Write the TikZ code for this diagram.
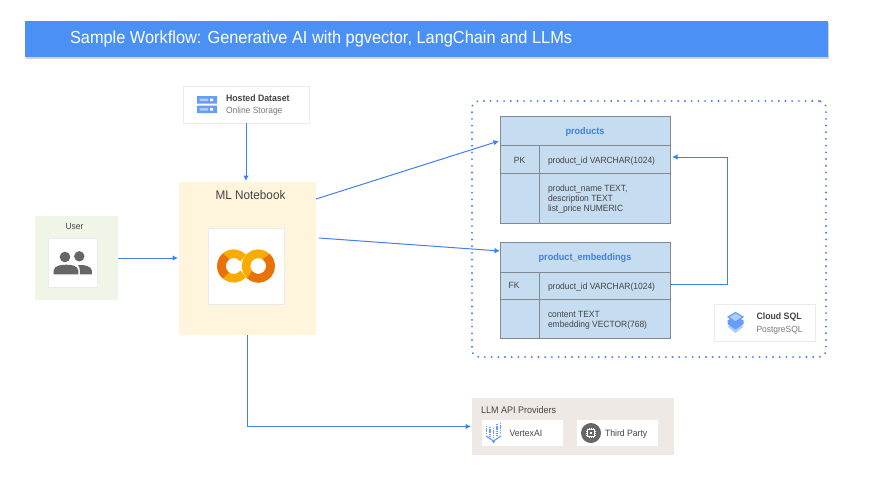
\documentclass[tikz,border=0pt]{standalone}
\usepackage{fontspec}
\setmainfont[FakeStretch=0.94]{Liberation Sans}
\usetikzlibrary{arrows.meta,shadows,calc}
\definecolor{gblue}{HTML}{4A90F5}
\definecolor{lineblue}{HTML}{3F7FEF}
\definecolor{txt}{HTML}{444444}
\definecolor{subtxt}{HTML}{7A7A7A}
\definecolor{tablefill}{HTML}{C6DCF0}
\definecolor{tableline}{HTML}{808A90}
\definecolor{notebook}{HTML}{FFF5DD}
\definecolor{usergreen}{HTML}{EFF6E8}
\definecolor{llmbg}{HTML}{EFE9E6}
\definecolor{iconblue}{HTML}{669DF6}
\definecolor{iconlight}{HTML}{AECBFA}
\definecolor{colabA}{HTML}{F9AB00}
\definecolor{colabB}{HTML}{E8710A}
\definecolor{icongray}{HTML}{666666}
\tikzset{
  area/.style={inner sep=0,outer sep=0,draw=none},
  card/.style={area,fill=white,draw=black!8,line width=.4pt,drop shadow={shadow xshift=0.3pt,shadow yshift=-1.2pt,opacity=.35,fill=black!60,draw=none}},
  cell/.style={area,draw=tableline,line width=1pt,fill=tablefill},
  flow/.style={draw=lineblue,line width=1pt,-{Latex[length=5.5pt,width=5.5pt]}},
  label/.style={inner sep=0,outer sep=0,text=txt,font=\fontsize{9}{10.2}\selectfont,align=left},
  sublabel/.style={label,text=subtxt},
}
\begin{document}
\begin{tikzpicture}[x=1pt,y=-1pt]
\useasboundingbox (0,0) rectangle (872,477);
% banner
\node[area,fill=gblue,minimum width=803pt,minimum height=36pt,drop shadow={shadow xshift=1pt,shadow yshift=-2pt,opacity=.3,fill=black!60}] (banner) at (426.5,39) {};
\node[label,anchor=west,text=white,font=\fontsize{17.4}{20}\selectfont] (title) at (70,39) {Sample Workflow: Generative AI with pgvector, LangChain and LLMs};
% hosted dataset
\node[card,minimum width=126pt,minimum height=37pt] (hosted) at (246,104.5) {};
\fill[iconblue] (197,96) rectangle (217,103.5) (197,105.5) rectangle (217,113);
\fill[iconlight] (199.5,98.5) rectangle (208,101) (199.5,108) rectangle (208,110.5);
\fill[white] (210,98.5) rectangle (213,101) (210,108) rectangle (213,110.5);
\node[label,anchor=west,font=\fontsize{9.3}{10}\selectfont\bfseries] (hostedt) at (226,98) {Hosted Dataset};
\node[sublabel,anchor=west,font=\fontsize{9}{10}\selectfont] (hosteds) at (226,111.5) {Online Storage};
% user
\node[area,fill=usergreen,minimum width=83pt,minimum height=84pt] (user) at (76.5,258) {};
\node[label,font=\fontsize{9}{10}\selectfont] (usert) at (74.5,226.5) {User};
\node[card,minimum width=49pt,minimum height=49pt] (usercard) at (72.5,262.5) {};
\fill[icongray] (65,257) circle (5.3) (79.3,256.3) circle (5.2);
\fill[icongray] (53.7,274.3) -- (53.7,270.5) .. controls (54,265.5) and (61,264.7) .. (66,264.7) .. controls (71,264.7) and (78,265.5) .. (78.3,270.5) -- (78.3,274.3) -- cycle;
\fill[icongray] (79.8,274.3) -- (79.8,270) .. controls (79.8,268) and (79,266.5) .. (78,265) .. controls (85,264.5) and (91.5,266.5) .. (91.8,270.5) -- (91.8,274.3) -- cycle;
% notebook
\node[area,fill=notebook,minimum width=137pt,minimum height=153pt] (ml) at (247.5,258.5) {};
\node[label,font=\fontsize{12.5}{14}\selectfont] (mlt) at (250.5,195) {ML Notebook};
\node[card,minimum width=76pt,minimum height=76pt] (colab) at (246,266) {};
\draw[colabA,line width=8.6pt] (233.7,266) ++(40:12.3) arc (40:320:12.3);
\draw[colabB,line width=8.6pt] (233.7,266) ++(130:12.3) arc (130:232:12.3);
\draw[colabA,line width=8.6pt] (258.3,266) circle (12.3);
\draw[colabB,line width=8.6pt] (258.3,266) ++(-50:12.3) arc (-50:135:12.3);
% cloud sql area
\node[area,draw=lineblue,line width=2pt,line cap=round,dash pattern=on 0.1pt off 6.6pt,rounded corners=7pt,minimum width=354pt,minimum height=256pt] (sqlarea) at (649,229) {};
% products
\node[cell,minimum width=170pt,minimum height=29pt] (phead) at (585,130.5) {};
\node[cell,minimum width=39pt,minimum height=28pt] (ppkc) at (519.5,159) {};
\node[cell,minimum width=131pt,minimum height=28pt] (pidc) at (604.5,159) {};
\node[cell,minimum width=39pt,minimum height=50pt] (pemptyc) at (519.5,198) {};
\node[cell,minimum width=131pt,minimum height=50pt] (prestc) at (604.5,198) {};
\node[label,text=lineblue,font=\fontsize{9.7}{10}\selectfont\bfseries] (pheadt) at (585,132) {products};
\node[label] (ppkt) at (519.5,160) {PK};
\node[label,anchor=west] (pidt) at (548,161) {product\_id VARCHAR(1024)};
\node[label,anchor=west] (prestt) at (548,199) {product\_name TEXT,\\description TEXT\\list\_price NUMERIC};
% embeddings
\node[cell,minimum width=170pt,minimum height=30pt] (ehead) at (585,257) {};
\node[cell,minimum width=39pt,minimum height=27pt] (efkc) at (519.5,285.5) {};
\node[cell,minimum width=131pt,minimum height=27pt] (eidc) at (604.5,285.5) {};
\node[cell,minimum width=39pt,minimum height=39pt] (eemptyc) at (519.5,318.5) {};
\node[cell,minimum width=131pt,minimum height=39pt] (erestc) at (604.5,318.5) {};
\node[label,text=lineblue,font=\fontsize{9.7}{10}\selectfont\bfseries] (eheadt) at (585,258) {product\_embeddings};
\node[label] (efkt) at (514,285.5) {FK};
\node[label,anchor=west] (eidt) at (548,287) {product\_id VARCHAR(1024)};
\node[label,anchor=west] (erestt) at (548,320.5) {content TEXT\\embedding VECTOR(768)};
% cloud sql card
\node[card,minimum width=101pt,minimum height=37pt] (sql) at (764.5,322.5) {};
\fill[iconlight] (727.5,326.5) -- (735.5,322) -- (743.5,326.5) -- (735.5,333) -- cycle;
\fill[iconblue] (727.5,320.5) -- (735.5,316) -- (743.5,320.5) -- (743.5,324) -- (735.5,329.5) -- (727.5,324) -- cycle;
\fill[iconlight] (728,317) -- (735.5,312.5) -- (743,317) -- (735.5,322) -- cycle;
\draw[iconblue,line width=1.2pt] (728,317) -- (735.5,312.5) -- (743,317) -- (735.5,322) -- cycle;
\node[label,anchor=west,font=\fontsize{9.3}{10}\selectfont\bfseries] (sqlt) at (756.5,317) {Cloud SQL};
\node[sublabel,anchor=west,font=\fontsize{9}{10}\selectfont] (sqls) at (756.5,330.5) {PostgreSQL};
% llm providers
\node[area,fill=llmbg,minimum width=202pt,minimum height=57pt] (llm) at (573,426.5) {};
\node[label,anchor=west,font=\fontsize{9.6}{10}\selectfont] (llmt) at (481,410) {LLM API Providers};
\node[card,minimum width=82pt,minimum height=27pt] (vertex) at (522,432.5) {};
\node[card,minimum width=82pt,minimum height=27pt] (third) at (617,432.5) {};
\foreach \px/\pa/\pb in {486.5/426/433, 490/427/437, 493.5/428/438, 497/424/436, 500.5/423/434}
  \draw[iconblue,line width=1.2pt,dash pattern=on 1.3pt off .9pt] (\px,\pa) -- (\px,\pb);
\draw[iconblue,line width=1.2pt] (486,436) -- (493.5,441) -- (501,436);
\fill[iconblue] (493.5,441.5) circle (1.6);
\node[label,anchor=west,font=\fontsize{9.2}{10}\selectfont] (vertext) at (509.5,433.5) {VertexAI};
\fill[icongray] (591,433) circle (10);
\draw[white,line width=.9pt] (587.5,429.5) rectangle (594.5,436.5);
\fill[white] (589.7,431.7) rectangle (592.3,434.3);
\foreach \pd in {-2,0,2} {
  \draw[white,line width=.5pt] (591+\pd,427.8) -- (591+\pd,429.5) (591+\pd,436.5) -- (591+\pd,438.2) (585.8,433+\pd) -- (587.5,433+\pd) (594.5,433+\pd) -- (596.2,433+\pd);
}
\node[label,anchor=west,font=\fontsize{9.2}{10}\selectfont] (thirdt) at (605,434) {Third Party};
% connectors
\coordinate (mlout1) at ($(ml.east)+(0,-59.5)$);
\coordinate (mlout2) at ($(ml.east)+(3,-20.5)$);
\coordinate (pin) at ($(phead.west)+(-1,10.5)$);
\coordinate (ein) at ($(ehead.west)+(0,-6)$);
\coordinate (pidin) at ($(pidc.east)+(2,-2)$);
\coordinate (fkout) at ($(eidc.east)+(0,-1.5)$);
\coordinate (fkbend) at ($(fkout)+(57,0)$);
\coordinate (llmin) at ($(llm.west)+(-1,0)$);
\draw[flow] (hosted.south) -- ($(ml.north)+(-1.5,-1)$);
\draw[flow] (user.east) -- ($(ml.west)+(-1,-0.5)$);
\draw[flow] (mlout1) -- (pin);
\draw[flow] (mlout2) -- (ein);
\draw[flow] (fkout) -- (fkbend) |- (pidin);
\draw[flow] (ml.south) ++(-0.5,0) |- (llmin);
\end{tikzpicture}
\end{document}
